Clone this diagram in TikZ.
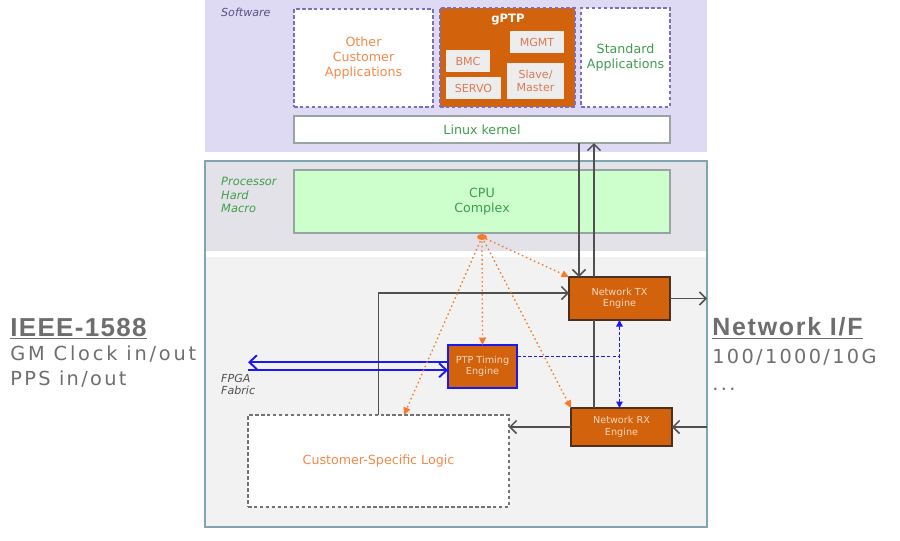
\documentclass[tikz,border=0pt]{standalone}
\usepackage{fontspec}
\setmainfont{DejaVu Sans}
\newfontfamily\sidefont{Liberation Sans}
\usepackage{xcolor}
\usetikzlibrary{arrows.meta}

\definecolor{lav}{HTML}{DEDAF4}
\definecolor{dashc}{HTML}{7B70B5}
\definecolor{gorange}{HTML}{D2620C}
\definecolor{apptext}{HTML}{F5894A}
\definecolor{grn}{HTML}{3F9E4D}
\definecolor{subfill}{HTML}{EDEDED}
\definecolor{subtext}{HTML}{D97A55}
\definecolor{macrotop}{HTML}{E3E2E8}
\definecolor{macrobot}{HTML}{F2F2F2}
\definecolor{macroedge}{HTML}{7FA6AE}
\definecolor{cpufill}{HTML}{CCFFCC}
\definecolor{boxedge}{HTML}{9AA3A3}
\definecolor{engtext}{HTML}{F9D9C2}
\definecolor{engedge}{HTML}{4A3020}
\definecolor{linec}{HTML}{505050}
\definecolor{blu}{HTML}{1A1AF0}
\definecolor{dotc}{HTML}{F47A2E}
\definecolor{sidetext}{HTML}{6E6E6E}
\definecolor{swtext}{HTML}{5A5080}

\begin{document}
\begin{tikzpicture}[x=0.2mm, y=-0.2mm,
        appfont/.style={font=\fontsize{7.2}{8.7}\selectfont},
        smallfont/.style={font=\fontsize{6.3}{7.6}\selectfont},
        engfont/.style={font=\fontsize{5.5}{6.6}\selectfont},
        dashbox/.style={draw=dashc, dash pattern=on 2pt off 1.4pt, line width=0.7pt,
            fill=white, inner sep=0pt, outer sep=0pt, align=center, appfont},
        subbox/.style={fill=subfill, text=subtext, inner sep=0pt, align=center, smallfont},
        plainbox/.style={draw=boxedge, line width=0.6pt, inner sep=0pt, outer sep=0pt,
            align=center, text=grn, appfont},
        engine/.style={fill=gorange, draw=engedge, line width=0.7pt, text=engtext,
            inner sep=0pt, outer sep=0pt, align=center, engfont},
        conn/.style={draw=linec, line width=0.85pt, -{Straight Barb[length=1.3mm, width=2.6mm]}},
        plain/.style={draw=linec, line width=0.85pt},
        tdot/.style={draw=dotc, line width=0.75pt, dash pattern=on 0.9pt off 1.6pt,
            -{Triangle[length=1.5mm, width=1.4mm]}},
        bdash/.style={draw=blu, line width=0.75pt, dash pattern=on 2pt off 1.2pt},
        bthick/.style={draw=blu, line width=1.1pt, -{Straight Barb[length=1.5mm, width=2.8mm]}},
        side/.style={anchor=base west, inner sep=0pt, text=sidetext}]
        \useasboundingbox (0,0) rectangle (900,540);

        % Software layer
        \fill[lav] (205,0) rectangle (707,152);
        \node[anchor=west, text=swtext, smallfont] (swlab) at (215,12) {\itshape Software};
        \node[dashbox, text=apptext, minimum width=27.8mm, minimum height=19.6mm] (other) at (363.5,58)
            {Other\\Customer\\Applications};
        \node[dashbox, fill=gorange, minimum width=27mm, minimum height=19.8mm] (gptp) at (507.5,57.5) {};
        \node[text=white, font=\fontsize{6.6}{8}\selectfont\bfseries] (gptplab) at (508,20) {gPTP};
        \node[subbox, minimum width=10.8mm, minimum height=4.4mm] (mgmt) at (537,42) {MGMT};
        \node[subbox, minimum width=8.8mm, minimum height=4.4mm] (bmc) at (468,61) {BMC};
        \node[subbox, minimum width=11mm, minimum height=4.4mm] (servo) at (473.5,88) {SERVO};
        \node[subbox, minimum width=11.4mm, minimum height=7.2mm] (slave) at (535.5,81) {Slave/\\Master};
        \node[dashbox, text=grn, minimum width=17.8mm, minimum height=19.8mm] (std) at (625.5,57.5)
            {Standard\\Applications};
        \node[plainbox, fill=white, minimum width=75.2mm, minimum height=5.4mm] (kernel) at (482,129.5)
            {Linux kernel};

        % Processor hard macro and fabric
        \fill[macrotop] (205,161) rectangle (707,251);
        \fill[macrobot] (205,257) rectangle (707,527);
        \node[draw=macroedge, line width=0.7pt, inner sep=0pt, outer sep=0pt,
            minimum width=100.4mm, minimum height=73.2mm] (hm) at (456,344) {};
        \node[anchor=west, align=left, text=grn, font=\fontsize{6.5}{7.7}\selectfont] (hmlab) at (215,195)
            {\itshape Processor\\\itshape Hard\\\itshape Macro};
        \node[plainbox, fill=cpufill, minimum width=75.2mm, minimum height=12.6mm] (cpu) at (482,201.5)
            {CPU\\Complex};

        % Engines and logic
        \node[engine, minimum width=20.2mm, minimum height=8.6mm] (tx) at (619.5,298.5) {Network TX\\Engine};
        \node[engine, minimum width=20.2mm, minimum height=7.6mm] (rx) at (621.5,427) {Network RX\\Engine};
        \node[engine, draw=blu, minimum width=13.8mm, minimum height=8.6mm] (ptp) at (482.5,366.5)
            {PTP Timing\\Engine};
        \node[dashbox, draw=linec!80, text=apptext, minimum width=52.2mm, minimum height=18.4mm] (csl)
            at (378.5,461) {Customer-Specific Logic};
        \node[anchor=west, align=left, text=linec, font=\fontsize{6.3}{6.8}\selectfont] (fpga) at (215,384)
            {\itshape FPGA\\\itshape Fabric};

        % Kernel <-> engines
        \coordinate (txin) at ([xshift=2mm]tx.north west);
        \coordinate (rxup) at ([xshift=4.6mm]rx.north west);
        \draw[conn] (txin |- kernel.south) -- (txin);
        \draw[plain] (rxup) -- (rxup |- tx.south);
        \draw[conn] (rxup |- tx.north) -- (rxup |- kernel.south);

        % Data path
        \draw[conn] (csl.north) |- ([yshift=1.1mm]tx.west);
        \draw[conn] (tx.east) -- (tx.east -| hm.east);
        \draw[conn] (hm.east |- rx.east) -- (rx.east);
        \draw[conn] (rx.west) -- (rx.west -| csl.east);

        % Timing links
        \draw[bdash] ([yshift=2mm]ptp.east) -- ([yshift=2mm]ptp.east -| tx.south);
        \draw[bdash, {Triangle[length=1.3mm, width=1.3mm]}-{Triangle[length=1.3mm, width=1.3mm]}]
            (tx.south) -- (tx.south |- rx.north);
        \draw[bthick] ([yshift=0.85mm]ptp.west) -- ([yshift=0.85mm]ptp.west -| csl.west);
        \draw[bthick] ([yshift=-0.75mm]ptp.west -| csl.west) -- ([yshift=-0.75mm]ptp.west);

        % Control from CPU
        \coordinate (spot) at ([yshift=-0.8mm]cpu.south);
        \fill[dotc] (spot) ellipse (5 and 3);
        \draw[tdot] (spot) -- ([xshift=5.1mm]csl.north);
        \draw[tdot] (spot) -- (ptp.north);
        \draw[tdot] (spot) -- (rx.north west);
        \draw[tdot] (spot) -- (tx.north west);

        % Side labels
        \node[side, font=\sidefont\fontsize{14.8}{16}\selectfont\bfseries\addfontfeature{LetterSpace=5}] (ieee)
            at (10,336) {\underline{IEEE-1588}};
        \node[side, font=\fontsize{11}{12}\selectfont\addfontfeature{LetterSpace=14.5}] (gm) at (10,360)
            {GM Clock in/out};
        \node[side, font=\fontsize{11}{12}\selectfont\addfontfeature{LetterSpace=12}] (pps) at (10,385)
            {PPS in/out};
        \node[side, font=\sidefont\fontsize{14.2}{16}\selectfont\bfseries\addfontfeature{LetterSpace=7}] (netif)
            at (712,335) {\underline{Network I/F}};
        \node[side, font=\fontsize{11}{12}\selectfont\addfontfeature{LetterSpace=12}] (speed) at (712,363)
            {100/1000/10G};
        \node[side, font=\fontsize{11}{12}\selectfont\addfontfeature{LetterSpace=12}] (more) at (712,390)
            {...};
    \end{tikzpicture}
\end{document}
